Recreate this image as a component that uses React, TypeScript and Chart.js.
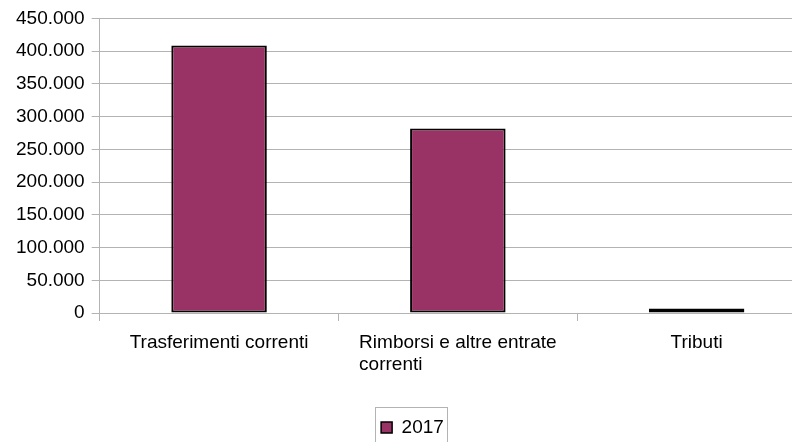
import React, { useEffect, useRef } from "react";
import { Chart, registerables } from "chart.js";

Chart.register(...registerables);

const categories = ["Trasferimenti correnti", "Rimborsi e altre entrate correnti", "Tributi"];
const xLabelLines = [["Trasferimenti correnti"], ["Rimborsi e altre entrate", "correnti"], ["Tributi"]];
const seriesName = "2017";
const series2017 = [408500, 282000, 7000];
const yMin = 0;
const yMax = 450000;
const yStep = 50000;

const FONT = "'Liberation Sans', Arial, Helvetica, sans-serif";
const FONT_SIZE = 19;
const BAR_COLOR = "#993366";
const GRID_COLOR = "#b3b3b3";

function fmt(v: number): string {
  return String(Math.round(v)).replace(/\B(?=(\d{3})+(?!\d))/g, ".");
}

export default function App() {
  const ref = useRef<HTMLCanvasElement>(null);

  useEffect(() => {
    const canvas = ref.current;
    if (!canvas) return;

    const xLabelPlugin = {
      id: "xLabelsLeft",
      afterDraw(chart: any) {
        const s = chart.scales.x;
        const ctx = chart.ctx;
        ctx.save();
        ctx.font = `${FONT_SIZE}px ${FONT}`;
        ctx.fillStyle = "#000";
        ctx.textAlign = "left";
        ctx.textBaseline = "alphabetic";
        xLabelLines.forEach((lines, i) => {
          const cx = s.getPixelForValue(i);
          const w = Math.max(...lines.map((l) => ctx.measureText(l).width));
          lines.forEach((l, j) => {
            ctx.fillText(l, cx - w / 2, s.top + 35 + j * 22);
          });
        });
        ctx.restore();
      },
    };

    const legendBorderPlugin = {
      id: "legendBorder",
      afterDraw(chart: any) {
        const lg = chart.legend;
        if (!lg || !lg.legendHitBoxes || !lg.legendHitBoxes.length) return;
        const hb = lg.legendHitBoxes[0];
        const ctx = chart.ctx;
        ctx.save();
        ctx.strokeStyle = GRID_COLOR;
        ctx.lineWidth = 1;
        ctx.strokeRect(Math.round(hb.left - 6) + 0.5, Math.round(hb.top - 11) + 0.5, Math.round(hb.width + 9), Math.round(hb.height + 24));
        ctx.restore();
      },
    };

    const chart = new Chart(canvas, {
      type: "bar",
      data: {
        labels: categories,
        datasets: [
          {
            label: seriesName,
            data: series2017,
            backgroundColor: BAR_COLOR,
            borderColor: "#000",
            borderWidth: 2,
            borderSkipped: false,
            categoryPercentage: 1,
            barPercentage: 0.4,
          },
        ],
      },
      options: {
        animation: false,
        responsive: false,
        devicePixelRatio: 1,
        layout: { padding: { left: 9, top: 18, right: 4, bottom: 23 } },
        plugins: {
          tooltip: { enabled: false },
          legend: {
            display: true,
            position: "bottom",
            labels: {
              boxWidth: 11,
              boxHeight: 11,
              color: "#000",
              font: { family: FONT, size: FONT_SIZE },
              padding: 10,
              generateLabels: (chart: any) =>
                chart.data.datasets.map((ds: any, i: number) => ({
                  text: ds.label,
                  fillStyle: BAR_COLOR,
                  strokeStyle: "#000",
                  lineWidth: 1.5,
                  datasetIndex: i,
                  fontColor: "#000",
                })),
            },
          },
        },
        scales: {
          x: {
            offset: true,
            grid: {
              display: true,
              drawOnChartArea: false,
              drawTicks: true,
              tickLength: 8,
              color: GRID_COLOR,
              offset: true,
            },
            border: { display: true, color: GRID_COLOR },
            ticks: {
              color: "rgba(0,0,0,0)",
              font: { family: FONT, size: FONT_SIZE },
              padding: 3,
              maxRotation: 0,
              autoSkip: false,
              callback: (_v: any, i: number) => xLabelLines[i],
            },
            afterFit: (scale: any) => {
              scale.height = 95;
            },
          },
          y: {
            min: yMin,
            max: yMax,
            grid: { color: GRID_COLOR, tickLength: 8 },
            border: { display: true, color: GRID_COLOR },
            ticks: {
              stepSize: yStep,
              color: "#000",
              padding: 7,
              font: { family: FONT, size: FONT_SIZE },
              callback: (v: any) => fmt(Number(v)),
            },
          },
        },
      },
      plugins: [xLabelPlugin, legendBorderPlugin],
    });

    return () => chart.destroy();
  }, []);

  return (
    <div
      style={{
        position: "fixed",
        left: 0,
        top: 0,
        width: 792,
        height: 442,
        overflow: "hidden",
        background: "#fff",
      }}
    >
      <canvas ref={ref} width={820} height={470} style={{ display: "block" }} />
    </div>
  );
}
